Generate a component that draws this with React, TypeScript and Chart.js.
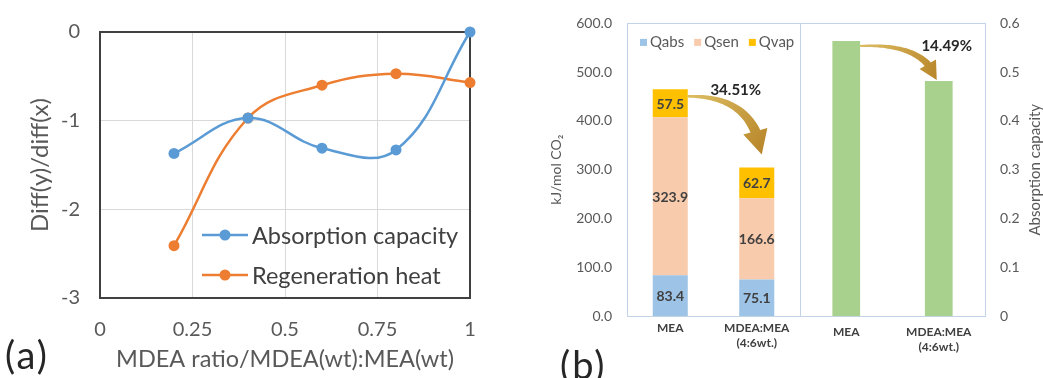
import React, { useEffect, useRef } from 'react';
import { Chart, registerables } from 'chart.js';

Chart.register(...registerables);

const FONT = 'Lato, "Open Sans", sans-serif';
const TEXT = '#595959';
const DARK = '#404040';

// ---------- (a) derivative curves ----------
const mdeaRatio = [0.2, 0.4, 0.6, 0.8, 1.0];
const absorptionSlope = [-1.37, -0.97, -1.31, -1.33, 0];
const regenerationSlope = [-2.41, -0.97, -0.6, -0.47, -0.57];
const xTicksA = ['0', '0.25', '0.5', '0.75', '1'];
const yTicksA = ['-3', '-2', '-1', '0'];
const seriesNamesA = ['Absorption capacity', 'Regeneration heat'];
const seriesColorsA = ['#5B9BD5', '#ED7D31'];

// ---------- (b) regeneration heat & capacity ----------
const solvents: (string | string[])[] = ['MEA', ['MDEA:MEA', '(4:6wt.)']];
const qabs = [83.4, 75.1];
const qsen = [323.9, 166.6];
const qvap = [57.5, 62.7];
const absorptionCapacity = [0.564, 0.482];
const yTicksHeat = ['0.0', '100.0', '200.0', '300.0', '400.0', '500.0', '600.0'];
const yTicksCapacity = ['0', '0.1', '0.2', '0.3', '0.4', '0.5', '0.6'];
const heatReduction = '34.51%';
const capacityReduction = '14.49%';

function drawCurvedArrow(
  ctx: CanvasRenderingContext2D,
  s: { x: number; y: number },
  c: { x: number; y: number },
  t: { x: number; y: number },
  w0: number,
  w1: number,
  headLen: number,
  headHalf: number
) {
  const q = (u: number) => ({
    x: (1 - u) * (1 - u) * s.x + 2 * (1 - u) * u * c.x + u * u * t.x,
    y: (1 - u) * (1 - u) * s.y + 2 * (1 - u) * u * c.y + u * u * t.y,
  });
  let ub = 1;
  for (let u = 1; u >= 0; u -= 0.002) {
    const p = q(u);
    if (Math.hypot(t.x - p.x, t.y - p.y) >= headLen) {
      ub = u;
      break;
    }
  }
  const b = q(ub);
  const hx = t.x - b.x;
  const hy = t.y - b.y;
  const hl = Math.hypot(hx, hy) || 1;
  const nx = -hy / hl;
  const ny = hx / hl;
  const N = 40;
  const left: { x: number; y: number }[] = [];
  const right: { x: number; y: number }[] = [];
  for (let i = 0; i <= N; i++) {
    const u = (ub * i) / N;
    const p = q(u);
    const dx = 2 * (1 - u) * (c.x - s.x) + 2 * u * (t.x - c.x);
    const dy = 2 * (1 - u) * (c.y - s.y) + 2 * u * (t.y - c.y);
    const dl = Math.hypot(dx, dy) || 1;
    let px = -dy / dl;
    let py = dx / dl;
    if (i === N) {
      px = nx;
      py = ny;
    }
    const w = (w0 + ((w1 - w0) * i) / N) / 2;
    left.push({ x: p.x + px * w, y: p.y + py * w });
    right.push({ x: p.x - px * w, y: p.y - py * w });
  }
  const grad = ctx.createLinearGradient(s.x, s.y, t.x, t.y);
  grad.addColorStop(0, '#DDBD62');
  grad.addColorStop(1, '#B8862A');
  ctx.save();
  ctx.beginPath();
  ctx.moveTo(left[0].x, left[0].y);
  left.forEach((p) => ctx.lineTo(p.x, p.y));
  ctx.lineTo(b.x + nx * headHalf, b.y + ny * headHalf);
  ctx.lineTo(t.x, t.y);
  ctx.lineTo(b.x - nx * headHalf, b.y - ny * headHalf);
  for (let i = N; i >= 0; i--) ctx.lineTo(right[i].x, right[i].y);
  ctx.closePath();
  ctx.fillStyle = grad;
  ctx.fill();
  ctx.restore();
}

// ---------- plugins ----------
const frameA = {
  id: 'frameA',
  beforeDatasetsDraw(chart: any) {
    const { ctx, chartArea: a } = chart;
    ctx.save();
    ctx.strokeStyle = DARK;
    ctx.lineWidth = 2;
    ctx.strokeRect(a.left, a.top, a.right - a.left, a.bottom - a.top);
    ctx.restore();
  },
};

const legendA = {
  id: 'legendA',
  afterDatasetsDraw(chart: any) {
    const { ctx, chartArea: a } = chart;
    ctx.save();
    chart.data.datasets.forEach((ds: any, i: number) => {
      const x0 = a.right - 268;
      const y = a.bottom - 63 + i * 40;
      ctx.strokeStyle = ds.borderColor;
      ctx.lineWidth = 2.5;
      ctx.beginPath();
      ctx.moveTo(x0, y);
      ctx.lineTo(x0 + 46, y);
      ctx.stroke();
      ctx.fillStyle = ds.borderColor;
      ctx.beginPath();
      ctx.arc(x0 + 23, y, 5.5, 0, Math.PI * 2);
      ctx.fill();
      ctx.fillStyle = DARK;
      ctx.font = `23.5px ${FONT}`;
      ctx.textAlign = 'left';
      ctx.textBaseline = 'middle';
      ctx.fillText(ds.label, x0 + 50, y + 1);
    });
    ctx.restore();
  },
};

const panelFrame = {
  id: 'panelFrame',
  beforeDatasetsDraw(chart: any) {
    const { ctx, chartArea: a } = chart;
    ctx.save();
    ctx.strokeStyle = '#C3D3E8';
    ctx.lineWidth = 1;
    ctx.strokeRect(Math.round(a.left) + 0.5, Math.round(a.top) + 0.5, Math.round(a.right - a.left), Math.round(a.bottom - a.top));
    ctx.restore();
  },
};

const stackLabels = {
  id: 'stackLabels',
  afterDatasetsDraw(chart: any) {
    const { ctx } = chart;
    ctx.save();
    ctx.font = `bold 14px ${FONT}`;
    ctx.fillStyle = DARK;
    ctx.textAlign = 'center';
    ctx.textBaseline = 'middle';
    chart.data.datasets.forEach((ds: any, i: number) => {
      chart.getDatasetMeta(i).data.forEach((el: any, j: number) => {
        ctx.fillText(Number(ds.data[j]).toFixed(1), el.x, (el.y + el.base) / 2 + 1);
      });
    });
    ctx.restore();
  },
};

const legendB = {
  id: 'legendB',
  afterDraw(chart: any) {
    const { ctx, chartArea: a } = chart;
    ctx.save();
    ctx.font = `15px ${FONT}`;
    ctx.textBaseline = 'middle';
    ctx.textAlign = 'left';
    let x = a.left + 13;
    const y = a.top + 19;
    chart.data.datasets.forEach((ds: any) => {
      ctx.fillStyle = ds.backgroundColor;
      ctx.fillRect(x, y - 3.5, 7, 7);
      x += 10;
      ctx.fillStyle = TEXT;
      ctx.fillText(ds.label, x, y);
      x += ctx.measureText(ds.label).width + 10;
    });
    ctx.restore();
  },
};

const arrowB1 = {
  id: 'arrowB1',
  afterDraw(chart: any) {
    const { ctx } = chart;
    const meta = chart.getDatasetMeta(2);
    const e0 = meta.data[0];
    const e1 = meta.data[1];
    const s = { x: e0.x + e0.width / 2, y: e0.y + 7 };
    const t = { x: e1.x + 5, y: e1.y - 13 };
    const c = { x: t.x - 8, y: s.y - 1 };
    drawCurvedArrow(ctx, s, c, t, 2.5, 10, 24, 12.5);
    ctx.save();
    ctx.font = `bold 15px ${FONT}`;
    ctx.fillStyle = '#262626';
    ctx.textAlign = 'center';
    ctx.textBaseline = 'middle';
    ctx.fillText(heatReduction, e1.x - 21, s.y - 6);
    ctx.restore();
  },
};

const arrowB2 = {
  id: 'arrowB2',
  afterDraw(chart: any) {
    const { ctx, chartArea: a } = chart;
    const meta = chart.getDatasetMeta(0);
    const e0 = meta.data[0];
    const e1 = meta.data[1];
    const s = { x: e0.x + e0.width / 2, y: e0.y + 5 };
    const t = { x: e1.x - 2, y: e1.y - 1 };
    const c = { x: t.x - 12, y: s.y - 3 };
    drawCurvedArrow(ctx, s, c, t, 2, 7, 18, 9.5);
    ctx.save();
    ctx.font = `bold 15px ${FONT}`;
    ctx.fillStyle = '#262626';
    ctx.textAlign = 'center';
    ctx.textBaseline = 'middle';
    ctx.fillText(capacityReduction, e1.x + 8, s.y);
    // right-axis title, reading bottom-to-top
    ctx.font = `15px ${FONT}`;
    ctx.fillStyle = TEXT;
    ctx.translate(245, (a.top + a.bottom) / 2);
    ctx.rotate(-Math.PI / 2);
    ctx.fillText('Absorption capacity', 0, 0);
    ctx.restore();
  },
};

// ---------- configs ----------
function cfgA(): any {
  return {
    type: 'line',
    data: {
      datasets: [absorptionSlope, regenerationSlope].map((ys, k) => ({
        label: seriesNamesA[k],
        data: mdeaRatio.map((x, i) => ({ x, y: ys[i] })),
        borderColor: seriesColorsA[k],
        backgroundColor: seriesColorsA[k],
        borderWidth: 2.5,
        pointRadius: 5.5,
        pointBorderWidth: 0,
        pointBackgroundColor: seriesColorsA[k],
        tension: 0.4,
        clip: false,
      })),
    },
    options: {
      responsive: false,
      animation: false,
      layout: { padding: { top: 22, right: 10, left: 0, bottom: 0 } },
      plugins: { legend: { display: false }, tooltip: { enabled: false } },
      scales: {
        x: {
          type: 'linear',
          min: 0,
          max: 1,
          ticks: {
            stepSize: 0.25,
            callback: (_v: any, i: number) => xTicksA[i],
            font: { family: FONT, size: 20 },
            color: TEXT,
            padding: 20,
            maxRotation: 0,
          },
          grid: { color: '#D9D9D9', drawTicks: false },
          border: { display: false },
          title: {
            display: true,
            text: 'MDEA ratio/MDEA(wt):MEA(wt)',
            font: { family: FONT, size: 23.5 },
            color: TEXT,
            padding: { top: 0, bottom: 4 },
          },
          afterFit: (s: any) => {
            s.height = 80;
            s.paddingLeft = 0;
            s.paddingRight = 0;
          },
        },
        y: {
          min: -3,
          max: 0,
          ticks: {
            stepSize: 1,
            callback: (_v: any, i: number) => yTicksA[i],
            font: { family: FONT, size: 20 },
            color: TEXT,
            padding: 20,
          },
          grid: { color: '#D9D9D9', drawTicks: false },
          border: { display: false },
          title: {
            display: true,
            text: 'Diff(y)/diff(x)',
            font: { family: FONT, size: 24 },
            color: TEXT,
            padding: { top: 26, bottom: 0 },
          },
          afterFit: (s: any) => {
            s.width = 100;
          },
        },
      },
    },
    plugins: [frameA, legendA],
  };
}

function cfgB1(): any {
  return {
    type: 'bar',
    data: {
      labels: solvents,
      datasets: [
        { label: 'Qabs', data: qabs, backgroundColor: '#9DC3E6' },
        { label: 'Qsen', data: qsen, backgroundColor: '#F8CBAD' },
        { label: 'Qvap', data: qvap, backgroundColor: '#FFC000' },
      ],
    },
    options: {
      responsive: false,
      animation: false,
      layout: { padding: { top: 19, right: 6, left: 0, bottom: 0 } },
      plugins: { legend: { display: false }, tooltip: { enabled: false } },
      datasets: { bar: { barPercentage: 0.405, categoryPercentage: 1 } },
      scales: {
        x: {
          stacked: true,
          grid: { display: false, drawTicks: false },
          border: { display: false },
          ticks: { font: { family: FONT, size: 12, weight: 'bold', lineHeight: 1.3 }, color: DARK, padding: 4, maxRotation: 0 },
          afterFit: (s: any) => {
            s.height = 62;
            s.paddingLeft = 0;
            s.paddingRight = 0;
          },
        },
        y: {
          stacked: true,
          min: 0,
          max: 600,
          grid: { display: false, drawTicks: false },
          border: { display: false },
          ticks: {
            stepSize: 100,
            callback: (_v: any, i: number) => yTicksHeat[i],
            font: { family: FONT, size: 14 },
            color: TEXT,
            padding: 15,
          },
          title: {
            display: true,
            text: 'kJ/mol CO₂',
            font: { family: FONT, size: 14 },
            color: TEXT,
            padding: { top: 48, bottom: 0 },
          },
          afterFit: (s: any) => {
            s.width = 127;
          },
        },
      },
    },
    plugins: [panelFrame, stackLabels, legendB, arrowB1],
  };
}

function cfgB2(): any {
  return {
    type: 'bar',
    data: {
      labels: solvents,
      datasets: [{ label: 'Absorption capacity', data: absorptionCapacity, backgroundColor: '#A9D18E' }],
    },
    options: {
      responsive: false,
      animation: false,
      layout: { padding: { top: 19, right: 0, left: 10, bottom: 0 } },
      plugins: { legend: { display: false }, tooltip: { enabled: false } },
      datasets: { bar: { barPercentage: 0.3, categoryPercentage: 1 } },
      scales: {
        x: {
          grid: { display: false, drawTicks: false },
          border: { display: false },
          ticks: { font: { family: FONT, size: 12, weight: 'bold', lineHeight: 1.3 }, color: DARK, padding: 8, maxRotation: 0 },
          afterFit: (s: any) => {
            s.height = 62;
            s.paddingLeft = 0;
            s.paddingRight = 0;
          },
        },
        y: {
          position: 'right',
          min: 0,
          max: 0.6,
          grid: { display: false, drawTicks: false },
          border: { display: false },
          ticks: {
            stepSize: 0.1,
            callback: (_v: any, i: number) => yTicksCapacity[i],
            font: { family: FONT, size: 14 },
            color: TEXT,
            padding: 15,
          },
          afterFit: (s: any) => {
            s.width = 58;
          },
        },
      },
    },
    plugins: [panelFrame, arrowB2],
  };
}

export default function App() {
  const refA = useRef<HTMLCanvasElement>(null);
  const refB1 = useRef<HTMLCanvasElement>(null);
  const refB2 = useRef<HTMLCanvasElement>(null);

  useEffect(() => {
    const charts = [
      new Chart(refA.current as HTMLCanvasElement, cfgA()),
      new Chart(refB1.current as HTMLCanvasElement, cfgB1()),
      new Chart(refB2.current as HTMLCanvasElement, cfgB2()),
    ];
    return () => charts.forEach((c) => c.destroy());
  }, []);

  const panelLabel: React.CSSProperties = {
    position: 'absolute',
    fontFamily: FONT,
    fontSize: 38,
    lineHeight: '38px',
    color: '#262626',
    letterSpacing: 2,
  };

  return (
    <div
      style={{
        position: 'absolute',
        left: 0,
        top: 0,
        width: 1043,
        height: 378,
        overflow: 'hidden',
        background: '#ffffff',
      }}
    >
      <canvas ref={refA} width={480} height={378} style={{ position: 'absolute', left: 0, top: 0 }} />
      <canvas ref={refB1} width={306} height={378} style={{ position: 'absolute', left: 500, top: 0 }} />
      <canvas ref={refB2} width={253} height={378} style={{ position: 'absolute', left: 790, top: 0 }} />
      <div style={{ ...panelLabel, left: 5, top: 335 }}>(a)</div>
      <div style={{ ...panelLabel, left: 560, top: 345 }}>(b)</div>
    </div>
  );
}
